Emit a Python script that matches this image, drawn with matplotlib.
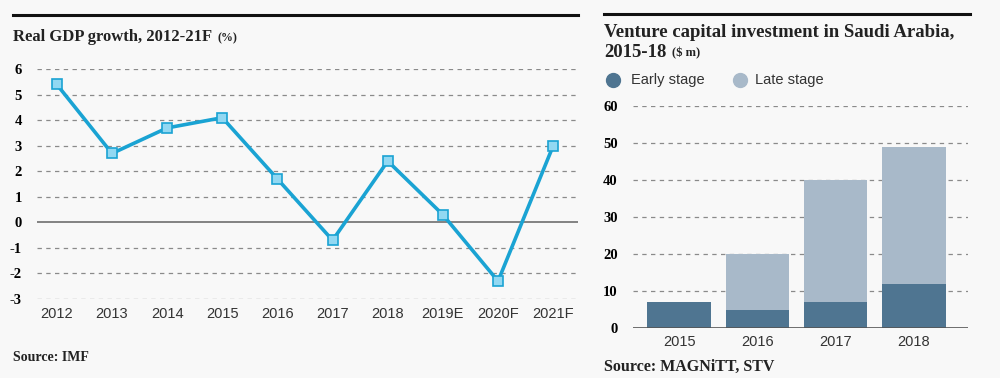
import matplotlib.pyplot as plt
from matplotlib.lines import Line2D

plt.rcParams["font.family"] = ["Liberation Serif", "DejaVu Serif"]

# GDP data
years = ["2012", "2013", "2014", "2015", "2016", "2017", "2018", "2019E", "2020F", "2021F"]
gdp = [5.4, 2.7, 3.7, 4.1, 1.7, -0.7, 2.4, 0.3, -2.3, 3.0]

# venture capital data
vc_years = ["2015", "2016", "2017", "2018"]
early = [7, 5, 7, 12]
late = [0, 15, 33, 37]

bg = "#f8f8f8"
line_col = "#1aa3d3"
early_col = "#4f7591"
late_col = "#a8b9c9"
grid_col = "#8a8a8a"
sans = ["Liberation Sans Narrow", "Liberation Sans", "DejaVu Sans"]

fig = plt.figure(figsize=(10, 3.78), dpi=100, facecolor=bg)

# left chart
ax1 = fig.add_axes([0.037, 0.209, 0.541, 0.608])
ax1.set_facecolor(bg)
x = list(range(len(years)))
ax1.plot(x, gdp, color=line_col, lw=2.6, marker="s", ms=6.5,
         mfc="#92d8f2", mec=line_col, mew=1.2, zorder=3)
ax1.set_xlim(-0.36, 9.45)
ax1.set_ylim(-3, 6)
ax1.set_yticks(range(-3, 7))
ax1.set_yticklabels([str(v) for v in range(-3, 7)], fontweight="bold", fontsize=10.5)
for v in range(-3, 7):
    if v == 0:
        ax1.axhline(0, color="#6e6e6e", lw=1.2, zorder=1)
    else:
        ax1.axhline(v, color=grid_col, lw=0.9, ls=(0, (3.5, 3.5)), zorder=1)
ax1.set_xticks(x)
ax1.set_xticklabels(years, family=sans, fontsize=10.5, color="#333333")
ax1.tick_params(length=0, pad=6)
ax1.tick_params(axis="y", pad=11)
for s in ax1.spines.values():
    s.set_visible(False)

# right chart
ax2 = fig.add_axes([0.633, 0.132, 0.335, 0.587])
ax2.set_facecolor(bg)
xb = list(range(len(vc_years)))
ax2.bar(xb, early, width=0.81, color=early_col, zorder=2)
ax2.bar(xb, late, width=0.81, bottom=early, color=late_col, zorder=2)
ax2.set_xlim(-0.59, 3.69)
ax2.set_ylim(0, 60)
ax2.set_yticks(range(0, 61, 10))
ax2.set_yticklabels([str(v) for v in range(0, 61, 10)], fontweight="bold", fontsize=10.5)
for v in range(10, 61, 10):
    ax2.axhline(v, color=grid_col, lw=0.9, ls=(0, (3.5, 3.5)), zorder=1)
ax2.axhline(0, color="#555555", lw=1.2, zorder=3)
ax2.set_xticks(xb)
ax2.set_xticklabels(vc_years, family=sans, fontsize=10.5, color="#333333")
ax2.tick_params(length=0, pad=5)
ax2.tick_params(axis="y", pad=11)
for s in ax2.spines.values():
    s.set_visible(False)

# top rules
fig.add_artist(Line2D([0.013, 0.578], [0.961, 0.961], color="#111111", lw=2.2))
fig.add_artist(Line2D([0.604, 0.970], [0.963, 0.963], color="#111111", lw=2.2))

# titles
fig.text(0.013, 0.902, "Real GDP growth, 2012-21F", fontsize=12, fontweight="bold",
         color="#222222", va="center")
fig.text(0.217, 0.899, "(%)", fontsize=8.5, fontweight="bold", color="#222222", va="center")
fig.text(0.604, 0.913, "Venture capital investment in Saudi Arabia,", fontsize=13.5,
         fontweight="bold", color="#222222", va="center")
fig.text(0.604, 0.862, "2015-18", fontsize=13.5, fontweight="bold", color="#222222", va="center")
fig.text(0.672, 0.860, "($ m)", fontsize=9, fontweight="bold", color="#222222", va="center")

# legend
fig.add_artist(Line2D([0.6125], [0.789], marker="o", ms=10, color=early_col, lw=0))
fig.text(0.631, 0.789, "Early stage", family=sans, fontsize=10.5, color="#333333", va="center")
fig.add_artist(Line2D([0.7395], [0.789], marker="o", ms=10, color=late_col, lw=0))
fig.text(0.755, 0.789, "Late stage", family=sans, fontsize=10.5, color="#333333", va="center")

# sources
fig.text(0.013, 0.055, "Source: IMF", fontsize=10, fontweight="bold", color="#222222", va="center")
fig.text(0.604, 0.03, "Source: MAGNiTT, STV", fontsize=11.5, fontweight="bold", color="#222222", va="center")

fig.savefig("out.png", dpi=100, facecolor=bg)
